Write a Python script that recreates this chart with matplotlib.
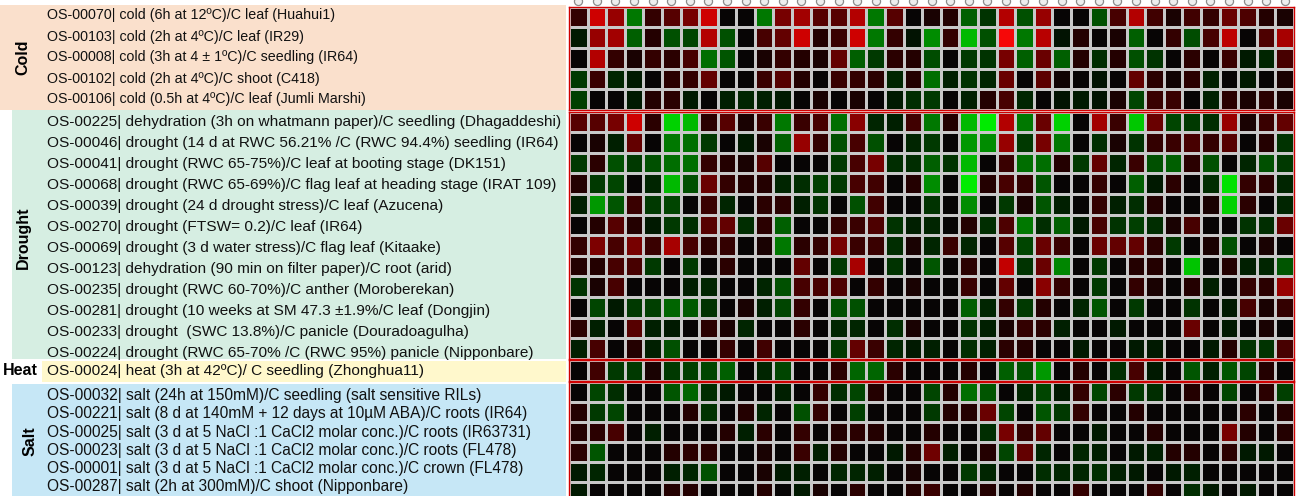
import numpy as np
import matplotlib
matplotlib.use('Agg')
import matplotlib.pyplot as plt
from matplotlib.colors import LinearSegmentedColormap
from matplotlib.patches import Rectangle

plt.rcParams['font.family'] = ['Liberation Sans', 'DejaVu Sans']

# ---- data (log ratio, green = down, red = up) ----
cold_labels = [
    'OS-00070| cold (6h at 12ºC)/C leaf (Huahui1)',
    'OS-00103| cold (2h at 4ºC)/C leaf (IR29)',
    'OS-00008| cold (3h at 4 ± 1ºC)/C seedling (IR64)',
    'OS-00102| cold (2h at 4ºC)/C shoot (C418)',
    'OS-00106| cold (0.5h at 4ºC)/C leaf (Jumli Marshi)',
]
cold_vals = [
    [0.5, 3, 2, -2, 0.5, 1, 1.5, 3, 0, 0, -2, 1.5, 2.2, 1, 1, 2.5, -2, 1, 0, 0.2, 0.3, -1.5, -0.7, 2.5, -1.2, 2, 0, 0, -1.2, 0.8, 2.5, 0.7, 0.2, 0.7, 0.5, 1.3, 0.9, 0.3, 0.2],
    [-0.3, 2, 2.2, -1.5, 0.3, -1.2, -1, 2.5, -1.2, 0, 0.8, 1.2, 3, 0.3, 0.6, 3, -2, 0.5, -0.2, -2.3, 0.5, -3, -1.2, 3.8, -2, 2.6, -0.2, 0.3, 0, 0.2, -1.5, 0, 0.5, -1.1, 0.8, 2.7, 0, 0.9, 2.3],
    [0, 2.5, 0.5, 0.2, 0.5, 0.4, 0.8, -1.8, -1.3, 0, 0.2, 0.5, 0.3, 0.2, 1.2, -1.5, -0.8, 0.4, 0.3, -1.1, 0, -0.8, -0.7, 1.5, -1.5, 1.3, -1.5, 0.3, -0.6, 0.3, -1.2, -0.7, 0, 0.4, 0, 0.6, -0.3, -0.5, 0.8],
    [-0.8, 0.6, -0.5, -0.3, 0, 0.4, 0.5, 1.2, 0, 0, 0.6, 1, 0.3, 0, 0.6, 0.5, 0.4, -0.5, 0.3, -1.8, -0.4, -0.7, -0.5, 1.3, 0, 1.1, 0.1, 0, -0.2, 0, 1.2, 0.4, 0.1, 0.4, -0.4, 0, -0.3, 0, 0.2],
    [-0.9, 0, 0, -0.3, 0.3, 0.4, -0.3, 0, -0.4, -0.5, -0.4, -0.3, 0, 0.2, 0, 0.2, 0, -0.3, -0.6, -0.8, 0, -0.4, 0.3, 0.8, -0.5, 0, -0.2, -0.3, -0.2, 0.2, -1, 0.6, 0.6, 0, -0.4, 0.4, 0.2, 0.4, 0.2],
]

drought_labels = [
    'OS-00225| dehydration (3h on whatmann paper)/C seedling (Dhagaddeshi)',
    'OS-00046| drought (14 d at RWC 56.21% /C (RWC 94.4%) seedling (IR64)',
    'OS-00041| drought (RWC 65-75%)/C leaf at booting stage (DK151)',
    'OS-00068| drought (RWC 65-69%)/C flag leaf at heading stage (IRAT 109)',
    'OS-00039| drought (24 d drought stress)/C leaf (Azucena)',
    'OS-00270| drought (FTSW= 0.2)/C leaf (IR64)',
    'OS-00069| drought (3 d water stress)/C flag leaf (Kitaake)',
    'OS-00123| dehydration (90 min on filter paper)/C root (arid)',
    'OS-00235| drought (RWC 60-70%)/C anther (Moroberekan)',
    'OS-00281| drought (10 weeks at SM 47.3 ±1.9%/C leaf (Dongjin)',
    'OS-00233| drought  (SWC 13.8%)/C panicle (Douradoagulha)',
    'OS-00224| drought (RWC 65-70% /C (RWC 95%) panicle (Nipponbare)',
]
drought_vals = [
    [1, 1, 1.5, 3, 0.4, -3.5, -3, 0.4, 1, 0.2, 0.6, -2, 0.6, 0.8, -1.8, 1.8, -0.5, -0.4, 0.7, -2, 0.3, -3, -4, 2.5, -2, 1.3, -3.5, 0, 2.2, 0.6, -3.3, 1.3, -1, -0.8, -0.6, 2, 0.2, 0.6, 1.2],
    [0, 0.2, -0.4, 1.2, 0, -2, -1.8, -0.8, 0, -0.3, 0.2, -1.5, 2, 0.5, -1.2, 0.8, -1.2, 0, -0.5, -0.8, 0, -2.5, -2.3, 2, -0.8, 1.5, -2, 0, -0.6, 0.2, -0.7, 0.5, 0.6, 0.8, 0.5, 1, 0, 0.3, -0.7],
    [-0.8, 0.4, -1.2, -0.8, -1.2, -1.8, -1.8, 0.5, 0.3, 0.2, 1, 0, 0, 0, -0.8, 0.8, 1.5, -0.6, -0.6, -1.5, -0.7, -3, 0, 0.6, -1.8, -1.8, 0.3, -0.8, 1.2, -0.5, 0.6, -1.2, -1.5, 0.4, -1.2, 0, -0.5, -1.2, -0.8],
    [0.3, -0.8, -1, 0, -0.5, -3, -1.2, 1.3, 0.5, 0.3, 0.3, -0.5, -0.6, -0.9, -0.8, 0.8, 0.7, 0, 0.3, -2.3, 0, -4, 0.3, 0.8, 0.5, -1.3, 0, 0, 0.5, 0, -1.5, -0.3, 0.4, 0, -0.6, -3.8, 0.5, 0.4, -0.5],
    [-0.4, -2.5, -1.3, 0.6, -0.8, -1, 0, 0.6, -0.5, 0, 0.4, 0.4, -0.4, -0.7, 0, -1.2, 0.7, 0, 0, -0.7, 0, -2.3, 0, -0.8, 0.2, -1.3, -0.4, 0, 0.5, -0.4, -0.6, 0.3, 0, 0, 0.2, -3.5, 0.4, 0, -0.5],
    [0, 0.3, 1, 0.3, -0.3, -0.8, -0.6, 1, 1.2, -0.6, 0.4, -1.5, 0, 0, 0.5, 0.6, 0.9, -0.7, -0.4, -0.5, 0, 0.3, -0.6, 0.9, -2, -0.6, -1.5, -0.3, 0.8, -0.7, -0.9, -0.6, 0.2, 0.8, 0, 0, -0.7, -0.6, 1.3],
    [0.5, 1.6, 0.8, 1.5, 0.6, 2.3, 0.8, 0.4, 0.5, 0, 0.2, -2, 0.4, 0.5, 1.5, 0.6, 0.6, -0.6, 0.2, -0.5, 0.6, -0.5, 0, 1, -1, 1.3, 0.6, 0, 1.3, 1.2, 1.2, 0.4, -0.8, 0, 0.2, -1.2, 0, 0.2, 0],
    [0.3, 0.3, 0.8, 0.8, -0.8, 0, -0.8, 0, 0.4, 0, 0, 0, 1.2, 0, -0.8, 2.3, 0, -0.7, 0, -1.3, 0, 0.4, 0, 2.8, -0.7, 1.3, -2.2, 0, -0.8, 0, 0.3, 0.3, 0, -3.2, 0, 0.3, -0.4, -0.5, -1.3],
    [-0.7, 0.2, 0.8, 0, 0, 0, -0.4, -0.5, 0, 0, -0.5, -1.2, 0.8, 0.8, 0.9, 0, 0.5, 0, 0.2, 0, 0, 0.6, 0, 1.2, 0, 1.8, 0.5, 0, -0.8, 0, 0.5, 0.2, 0, 0.3, -0.4, 0, 0.5, 0.4, 2],
    [0, -1, -0.3, -0.8, -0.9, -1.6, -1.4, -0.7, 0, 0.2, -0.4, -1, 0.5, 0, -1.2, -1.2, 0, 0, 0, 0, 0, -1.5, -0.5, 0.5, -0.8, 0.3, 0, -0.5, -1.3, 0, -0.8, 0, 0, -0.7, 0, -0.3, 0.8, 0.2, 0.5],
    [0.4, -0.4, 0, 1, -0.4, -0.3, 0, 0.4, 0.2, -0.5, 0, 0, 0.4, 0, -0.5, -0.5, 0, -0.6, 0.2, 0, 0, -0.7, -0.4, 0.2, 0.5, 0.4, -0.4, 0, 0, -0.3, 0, 0, 0, 1.3, 0, -0.3, 0, 0.2, 0],
    [-0.4, 0.8, 0, 0.3, -0.4, -1.2, 0, 0, 0.5, 0, 0.7, 0, 0, 0, -0.8, 1.2, 0.6, -0.5, -0.3, -0.4, 0, -0.6, -0.4, 0.4, 0.3, 0, 0, -0.3, 0, 0, -0.3, -0.3, 0, 0, -0.3, 0.3, -0.7, -0.7, 0.8],
]

heat_labels = ['OS-00024| heat (3h at 42ºC)/ C seedling (Zhonghua11)']
heat_vals = [
    [0, 0.7, -0.8, -0.8, 0.2, -0.8, -0.9, -1, -1.5, 0, -0.5, -1, 0, 0, 0.4, -1.6, -1.6, 0.4, 0, 0, 0, 0.3, 0, -1.5, -1.2, -2.5, 0, 0.3, 0, -0.6, 0.8, -0.3, 0, -1.3, -0.4, -1.3, -1, 0.3, 0],
]

salt_labels = [
    'OS-00032| salt (24h at 150mM)/C seedling (salt sensitive RILs)',
    'OS-00221| salt (8 d at 140mM + 12 days at 10µM ABA)/C roots (IR64)',
    'OS-00025| salt (3 d at 5 NaCl :1 CaCl2 molar conc.)/C roots (IR63731)',
    'OS-00023| salt (3 d at 5 NaCl :1 CaCl2 molar conc.)/C roots (FL478)',
    'OS-00001| salt (3 d at 5 NaCl :1 CaCl2 molar conc.)/C crown (FL478)',
    'OS-00287| salt (2h at 300mM)/C shoot (Nipponbare)',
]
salt_vals = [
    [0, -1, -0.6, 0, 0, -1.3, -1.6, -0.6, -0.3, 0, 0, -0.4, 0, 0.5, -0.6, -1, 0.3, 0, 0, -1, 0.3, -1.8, -1.3, 0, -0.5, -1, -0.3, 0.5, -1, 0.4, -0.8, -0.6, 0, 0.3, 0, -1, 0, 0.4, -0.9],
    [0.3, -0.8, -1, 0, 0, 0, 0.3, -0.7, 0, 0.3, -0.5, 0, -1.2, 0.5, 0, -0.9, 0, 0, 0, -0.8, 0.3, 0.3, 1.3, -1, 0, -1.3, -0.8, 0.5, 0, 0, 0.3, 0, 0, 0, 0, 0, 0.4, 0, 0.3],
    [0.3, 0.4, 0.8, 0, -0.4, 0, 0, 0, 0.3, -0.4, 0.4, 0, 0.5, 0, 0.3, 0.4, 0.3, 0, 0, 0.3, 0, 0, -0.6, 1.5, 0.5, 1.2, 0, 0, -0.3, 0, 0, 0.3, 0, 0, 0, 1.5, 0.3, 0, 0.3],
    [0.4, -1.3, 0, 0, 0, 0.3, 0.4, 0.4, 0, 0, 0.2, 0, 0.6, -0.4, 0.3, 0, 0, -0.3, 0.3, 1.4, -0.4, 0, 0.3, -1, 1.2, -0.5, 0, -0.5, -0.4, 0, -0.3, -0.4, 0.3, 0.3, 0, 0.4, -0.3, -0.3, 0],
    [-0.3, -0.5, 0, 0, 0, -0.4, -0.5, -1.2, 0, 0, 0.2, -0.3, -0.4, 0, -0.5, -0.5, -0.4, 0, 0.2, 0, 0, -0.8, -0.5, 0, 0, -0.6, -0.5, -0.5, -0.6, -0.4, -0.3, 0, -0.3, -0.4, 0, 0, 0, 0, 0],
    [-0.3, 0, 0, 0, 0, 0.3, 0.3, 0, 0, 0, 0.3, 0, -0.3, 0.2, 0, 0.4, 0, 0, 0.3, 0.6, 0, 0, 0.3, 0, 0.3, 0, 0, 0.5, 0, 0, 0, 0.5, 0, -0.6, -0.3, 0, -0.3, 0, 0],
]

# ---- colours ----
vmax = 4.0
anchors = [(-4, (0, 235, 0)), (-3, (0, 185, 0)), (-2, (0, 120, 0)), (-1, (0, 70, 0)),
           (-0.3, (0, 25, 0)), (0, (5, 5, 5)), (0.3, (35, 0, 0)), (1, (85, 0, 0)),
           (2, (150, 0, 0)), (3, (205, 0, 0)), (4, (255, 10, 10))]
cmap = LinearSegmentedColormap.from_list(
    'gr', [((v + vmax) / (2 * vmax), tuple(c / 255 for c in rgb)) for v, rgb in anchors])

# name, labels, values, panel colour, heatmap top, row height, label start, label step, font size
sections = [
    ('Cold', cold_labels, cold_vals, '#fae0cc', 6.5, 20.7, 15.5, 21.0, 10.3),
    ('Drought', drought_labels, drought_vals, '#d6eee2', 111.5, 20.6, 122.0, 21.0, 11.1),
    ('Heat', heat_labels, heat_vals, '#fff8cc', 359.7, 20.8, 370.5, 21.0, 11.1),
    ('Salt', salt_labels, salt_vals, '#c6e7f6', 382.0, 20.0, 395.5, 18.3, 11.2),
]
panel_spans = {'Cold': (0, 5, 110), 'Drought': (12, 110, 359), 'Heat': (42, 361, 382),
               'Salt': (12, 384, 500)}

W, H = 1300, 496
fig = plt.figure(figsize=(13, 4.96), dpi=100)

bg = fig.add_axes([0, 0, 1, 1])
bg.set_xlim(0, W)
bg.set_ylim(H, 0)
bg.axis('off')

hx0, hw = 569, 725
for k, (name, labels, vals, col, top, rh, ly, sp, fs) in enumerate(sections):
    data = np.array(vals)
    n = data.shape[0]
    h = n * rh
    ax = fig.add_axes([hx0 / W, 1 - (top + h) / H, hw / W, h / H])
    ax.pcolormesh(data, cmap=cmap, vmin=-vmax, vmax=vmax,
                  edgecolors='#c8c8c8', linewidth=1.0)
    ax.set_xlim(0, data.shape[1])
    ax.set_ylim(n, 0)
    ax.set_xticks([])
    ax.set_yticks([])
    for s in ax.spines.values():
        s.set_color('#d00000')
        s.set_linewidth(1.0)
    if k == 0:
        cols = np.arange(data.shape[1]) + 0.5
        ax.scatter(cols, np.full(len(cols), -6 / rh), s=34, facecolor='#eeeeee',
                   edgecolor='#8c8c8c', linewidth=0.9, clip_on=False, zorder=5)

    # left label panel
    px, py0, py1 = panel_spans[name]
    bg.add_patch(Rectangle((px, py0), 566 - px, py1 - py0,
                           facecolor=col, edgecolor='none', zorder=0))
    for i, lab in enumerate(labels):
        bg.text(47, ly + i * sp, lab, fontsize=fs, va='center', ha='left',
                color='#111111')
    if name == 'Heat':
        bg.text(3, ly, name, fontsize=11.5, fontweight='bold', va='center', ha='left')
    else:
        gy = ly + (len(labels) - 1) * sp / 2
        gx = 30 if name == 'Salt' else 23
        bg.text(gx, gy, name, fontsize=11.5, fontweight='bold', rotation=90,
                va='center', ha='center')

fig.savefig('out.png', dpi=100)
